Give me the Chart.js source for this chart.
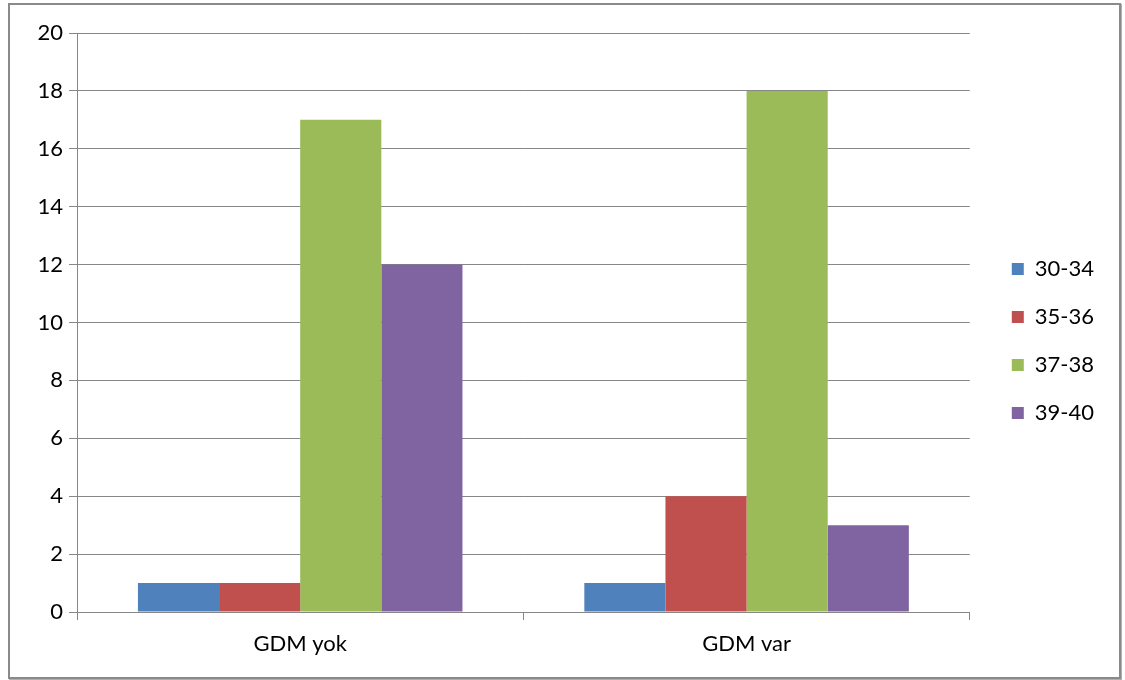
<!DOCTYPE html>
<html>
<head>
<meta charset="utf-8">
<script src="https://cdn.jsdelivr.net/npm/chart.js@4"></script>
<style>
  html, body { margin: 0; padding: 0; background: #fff; }
  #frame {
    position: absolute; left: 8px; top: 3px;
    width: 1109px; height: 672px;
    border: 2px solid #8a8a8a;
    box-shadow: 1px 1px 0 #b0b0b0;
  }
  #myChart { display: block; }
</style>
</head>
<body>
<div id="frame"><canvas id="myChart" width="1109" height="672"></canvas></div>
<script>
// data
var groups = ["GDM yok", "GDM var"];
var weekLabels = ["30-34", "35-36", "37-38", "39-40"];
var w30_34 = [1, 1];
var w35_36 = [1, 4];
var w37_38 = [17, 18];
var w39_40 = [12, 3];
var colors = ["#4F81BD", "#C0504D", "#9BBB59", "#8064A2"];

var gridGray = "#878787";
var font = { family: "Lato", size: 22 };

var series = [w30_34, w35_36, w37_38, w39_40];
var datasets = [];
for (i = 0; i < series.length; i++) {
    datasets.push({
        label: weekLabels[i],
        data: series[i],
        backgroundColor: colors[i],
        borderWidth: 0,
        categoryPercentage: 0.727,
        barPercentage: 1.0
    });
}

// legend sits a bit higher and further right than chart.js puts it
var legendShift = {
    id: 'legendShift',
    afterLayout: function (chart) {
        var lg = chart.legend;
        lg.top = 0;
        lg.bottom = chart.height;
        lg.left += 16;
        lg.right += 16;
    }
};

const ctx = document.getElementById("myChart");
var myBarChart = new Chart(ctx, {
    type: 'bar',
    data: { labels: groups, datasets: datasets },
    plugins: [legendShift],
    options: {
        responsive: false,
        animation: false,
        layout: { padding: { top: 28, right: 31, left: 0, bottom: 0 } },
        plugins: {
            tooltip: { enabled: false },
            legend: {
                position: 'right',
                labels: {
                    color: "#000",
                    font: font,
                    boxWidth: 12,
                    boxHeight: 12,
                    padding: 26
                }
            }
        },
        scales: {
            x: {
                grid: { drawOnChartArea: false, offset: true, tickLength: 8, color: gridGray },
                border: { color: gridGray },
                ticks: { color: "#000", font: font, padding: 11 },
                afterFit: function (scale) { scale.height = 65; }
            },
            y: {
                min: 0, max: 20,
                ticks: { stepSize: 2, color: "#000", font: font, padding: 6 },
                grid: { color: gridGray, tickLength: 8 },
                border: { color: gridGray },
                afterFit: function (scale) { scale.width = 67; }
            }
        }
    }
});
</script>
</body>
</html>
